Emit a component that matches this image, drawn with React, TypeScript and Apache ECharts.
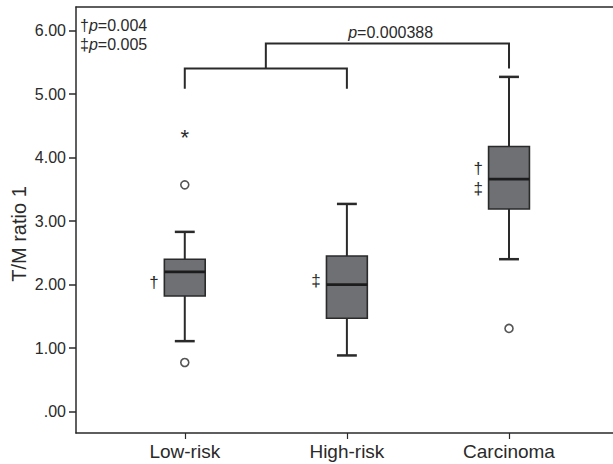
import React, { useEffect, useRef } from "react";
import * as echarts from "echarts";

const categories = ["Low-risk", "High-risk", "Carcinoma"];
const whiskerLow = [1.11, 0.885, 2.4];
const quartile1 = [1.82, 1.47, 3.19];
const medians = [2.2, 2.0, 3.66];
const quartile3 = [2.4, 2.45, 4.175];
const whiskerHigh = [2.83, 3.27, 5.27];
// [category index, value]
const outliers = [
  [0, 3.57],
  [0, 0.774],
  [2, 1.31],
];
const extremes = [[0, 4.39]];
const yTickValues = [0, 1, 2, 3, 4, 5, 6];
const yTickLabels = [".00", "1.00", "2.00", "3.00", "4.00", "5.00", "6.00"];
// significance marks beside boxes
const markCats = [0, 1, 2, 2];
const markValues = [2.03, 2.06, 3.82, 3.51];
const markTexts = ["†", "‡", "†", "‡"];
// brackets: from (cat index), to (cat index), top value, drop value
const bracketFrom = [0, 0.5];
const bracketTo = [1, 2];
const bracketTop = [5.4, 5.795];
const bracketDrop = [5.085, 5.4];
const pTextValue = "0.000388";
const pTextPos = [1.27, 5.97];
const noteLines = ["0.004", "0.005"];
const noteSymbols = ["†", "‡"];

const FONT = "'Liberation Sans', Arial, Helvetica, sans-serif";
const INK = "#2a2a2a";

export default function App() {
  const ref = useRef<HTMLDivElement>(null);

  useEffect(() => {
    if (!ref.current) return;
    const chart = echarts.init(ref.current, undefined, { renderer: "svg" });

    const boxData = categories.map((_, i) => [
      i + 1,
      whiskerLow[i],
      quartile1[i],
      medians[i],
      quartile3[i],
      whiskerHigh[i],
    ]);
    const markData = markCats.map((c, i) => [c + 1 - 0.19, markValues[i]]);
    const bracketData = bracketFrom.map((f, i) => [
      f + 1,
      bracketTo[i] + 1,
      bracketTop[i],
      bracketDrop[i],
    ]);

    const xMin = 0.329;
    const xMax = 3.66;

    chart.setOption({
      animation: false,
      color: [INK],
      grid: {
        left: 76,
        right: 14,
        top: 7,
        bottom: 31,
        show: false,
        outerBoundsMode: "none",
        containLabel: false,
      },
      xAxis: [
        {
          type: "value",
          min: xMin,
          max: xMax,
          position: "bottom",
          splitLine: { show: false },
          axisLine: { show: true, onZero: false, lineStyle: { color: INK, width: 1.5 } },
          axisTick: {
            show: true,
            customValues: [1, 2, 3],
            length: 6,
            lineStyle: { color: INK, width: 1.2 },
          },
          axisLabel: {
            customValues: [1, 2, 3],
            formatter: (v: number) => categories[Math.round(v) - 1] ?? "",
            fontFamily: FONT,
            fontSize: 19,
            color: INK,
            margin: 9,
          },
        },
        {
          type: "value",
          min: xMin,
          max: xMax,
          position: "top",
          splitLine: { show: false },
          axisLine: { show: true, onZero: false, lineStyle: { color: INK, width: 1.5 } },
          axisTick: { show: false },
          axisLabel: { show: false },
        },
      ],
      yAxis: {
        type: "value",
        min: -0.336,
        max: 6.37,
        splitLine: { show: false },
        axisLine: { show: true, onZero: false, lineStyle: { color: INK, width: 1.5 } },
        axisTick: {
          show: true,
          customValues: yTickValues,
          length: 7,
          lineStyle: { color: INK, width: 1.5 },
        },
        axisLabel: {
          customValues: yTickValues,
          formatter: (v: number) => {
            const i = yTickValues.indexOf(Math.round(v));
            return i >= 0 ? yTickLabels[i] : "";
          },
          fontFamily: FONT,
          fontSize: 16,
          color: INK,
          margin: 10,
        },
      },
      graphic: [
        {
          type: "rect",
          z: 100,
          shape: { x: 598, y: 9, width: 42, height: 422 },
          style: { fill: "#ffffff" },
        },
        {
          type: "text",
          x: 19,
          y: 234,
          rotation: Math.PI / 2,
          style: {
            text: "T/M ratio 1",
            fontFamily: FONT,
            fontSize: 20,
            fill: INK,
            align: "center",
            verticalAlign: "middle",
          },
        },
        ...noteLines.map((t, i) => ({
          type: "text",
          x: 80,
          y: 25 + i * 19,
          style: {
            text: `${noteSymbols[i]}{i|p}=${t}`,
            rich: { i: { fontStyle: "italic", fontFamily: FONT, fontSize: 16, fill: INK } },
            fontFamily: FONT,
            fontSize: 16,
            fill: INK,
            align: "left",
            verticalAlign: "middle",
          },
        })),
      ],
      series: [
        {
          type: "custom",
          name: "box",
          data: boxData,
          encode: { x: 0, y: [1, 2, 3, 4, 5] },
          itemStyle: { color: INK },
          renderItem: (params: any, api: any) => {
            const x = api.value(0);
            const lo = api.coord([x, api.value(1)]);
            const b1 = api.coord([x, api.value(2)]);
            const md = api.coord([x, api.value(3)]);
            const b3 = api.coord([x, api.value(4)]);
            const hi = api.coord([x, api.value(5)]);
            const hw = api.size([0.126, 0])[0];
            const cw = api.size([0.0614, 0])[0];
            const cx = lo[0];
            const ls = { stroke: INK, lineWidth: 2 };
            return {
              type: "group",
              children: [
                { type: "line", shape: { x1: cx, y1: lo[1], x2: cx, y2: b1[1] }, style: ls },
                { type: "line", shape: { x1: cx, y1: b3[1], x2: cx, y2: hi[1] }, style: ls },
                { type: "line", shape: { x1: cx - cw, y1: lo[1], x2: cx + cw, y2: lo[1] }, style: { stroke: INK, lineWidth: 2.5 } },
                { type: "line", shape: { x1: cx - cw, y1: hi[1], x2: cx + cw, y2: hi[1] }, style: { stroke: INK, lineWidth: 2.5 } },
                {
                  type: "rect",
                  shape: { x: cx - hw, y: b3[1], width: hw * 2, height: b1[1] - b3[1] },
                  style: { fill: "#6f7074", stroke: INK, lineWidth: 1.6 },
                },
                { type: "line", shape: { x1: cx - hw, y1: md[1], x2: cx + hw, y2: md[1] }, style: { stroke: "#1c1c1c", lineWidth: 2.8 } },
              ],
            };
          },
          z: 2,
        },
        {
          type: "scatter",
          name: "outliers",
          data: outliers.map((d) => [d[0] + 1, d[1]]),
          symbol: "circle",
          symbolSize: 8,
          itemStyle: { color: "#ffffff", borderColor: INK, borderWidth: 1.6 },
          z: 3,
        },
        {
          type: "custom",
          name: "extremes",
          data: extremes.map((d) => [d[0] + 1, d[1]]),
          itemStyle: { color: INK },
          renderItem: (params: any, api: any) => {
            const p = api.coord([api.value(0), api.value(1)]);
            return {
              type: "text",
              x: p[0],
              y: p[1] + 5,
              style: { text: "*", fontFamily: FONT, fontSize: 22, fill: INK, align: "center", verticalAlign: "middle" },
            };
          },
          z: 3,
        },
        {
          type: "custom",
          name: "marks",
          data: markData,
          itemStyle: { color: INK },
          renderItem: (params: any, api: any) => {
            const p = api.coord([api.value(0), api.value(1)]);
            return {
              type: "text",
              x: p[0],
              y: p[1],
              style: {
                text: markTexts[params.dataIndex],
                fontFamily: FONT,
                fontSize: 17,
                fill: INK,
                align: "center",
                verticalAlign: "middle",
              },
            };
          },
          z: 3,
        },
        {
          type: "custom",
          name: "brackets",
          data: bracketData,
          itemStyle: { color: INK },
          renderItem: (params: any, api: any) => {
            const a = api.coord([api.value(0), api.value(3)]);
            const b = api.coord([api.value(0), api.value(2)]);
            const c = api.coord([api.value(1), api.value(2)]);
            const d = api.coord([api.value(1), api.value(3)]);
            return {
              type: "polyline",
              shape: { points: [a, b, c, d] },
              style: { stroke: INK, lineWidth: 2, fill: "none" },
            };
          },
          z: 3,
        },
        {
          type: "custom",
          name: "ptext",
          data: [[pTextPos[0] + 1, pTextPos[1]]],
          itemStyle: { color: INK },
          renderItem: (params: any, api: any) => {
            const p = api.coord([api.value(0), api.value(1)]);
            return {
              type: "text",
              x: p[0],
              y: p[1],
              style: {
                text: `{i|p}=${pTextValue}`,
                rich: { i: { fontStyle: "italic", fontFamily: FONT, fontSize: 16, fill: INK } },
                fontFamily: FONT,
                fontSize: 16,
                fill: INK,
                align: "center",
                verticalAlign: "middle",
              },
            };
          },
          z: 3,
        },
      ],
    });

    return () => chart.dispose();
  }, []);

  return (
    <div
      ref={ref}
      style={{ position: "fixed", left: 0, top: 0, width: 630, height: 464, background: "#fff" }}
    />
  );
}
